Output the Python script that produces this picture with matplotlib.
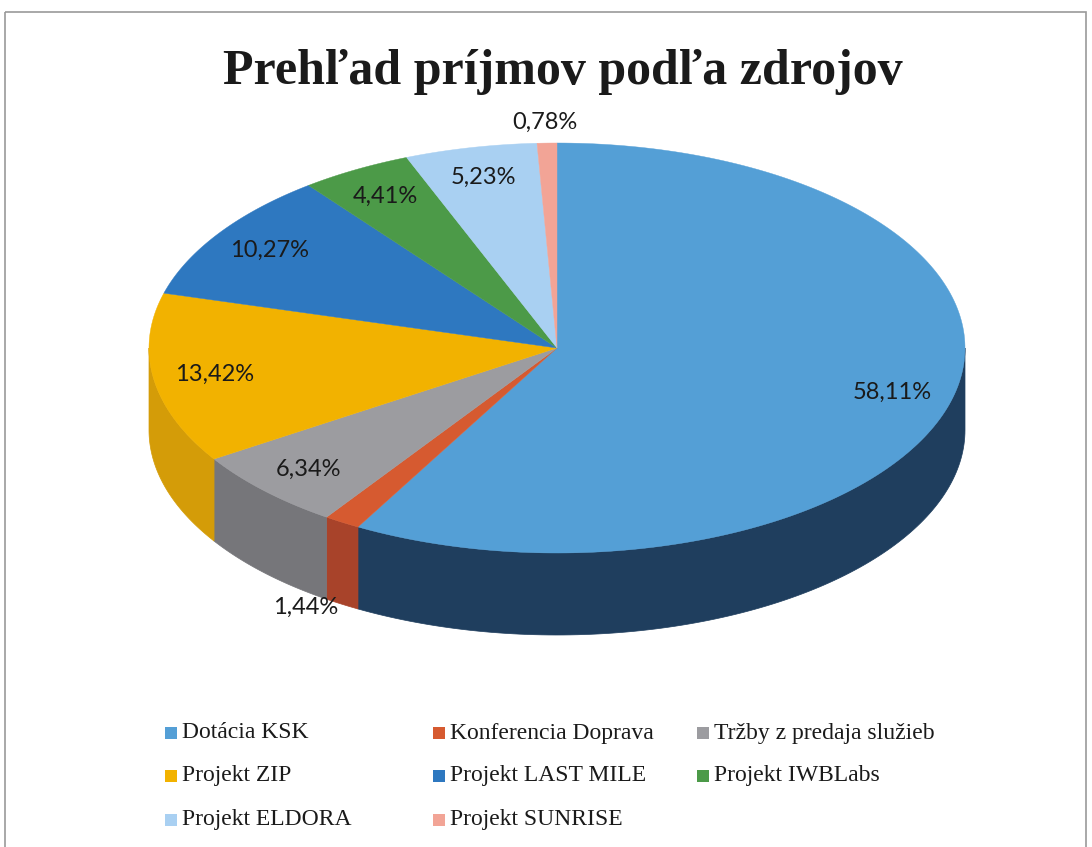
import numpy as np
import matplotlib
matplotlib.use("Agg")
import matplotlib.pyplot as plt
from matplotlib.patches import Polygon, Rectangle

# Data
categories = ["Dotácia KSK", "Konferencia Doprava", "Tržby z predaja služieb",
              "Projekt ZIP", "Projekt LAST MILE", "Projekt IWBLabs",
              "Projekt ELDORA", "Projekt SUNRISE"]
shares = [58.11, 1.44, 6.34, 13.42, 10.27, 4.41, 5.23, 0.78]
labels = ["58,11%", "1,44%", "6,34%", "13,42%", "10,27%", "4,41%", "5,23%", "0,78%"]

top_colors = ["#549fd6", "#d65a30", "#9c9ca0", "#f2b200",
              "#2e78c0", "#4c9a48", "#a9d0f2", "#f2a496"]
side_colors = ["#1f3e5e", "#a8432a", "#76767a", "#d49c08",
               "#245e98", "#3a7a38", "#86a8c8", "#c8857a"]

# geometry of the 3D pie in pixel space
cx, cy = 557, 348
rx, ry = 408, 205
depth = 82

fig = plt.figure(figsize=(10.92, 8.47), dpi=100)
ax = fig.add_axes([0, 0, 1, 1])
ax.set_xlim(0, 1092)
ax.set_ylim(847, 0)
ax.axis("off")

# outer border of the chart area
ax.add_patch(Rectangle((5, 12), 1081, 850, fill=False, ec="#9a9a9a", lw=1.2))


def ell(theta, dy=0.0):
    return cx + rx * np.cos(theta), cy - ry * np.sin(theta) + dy


total = sum(shares)
bounds = []
start = np.pi / 2
for s in shares:
    end = start - 2 * np.pi * s / total
    bounds.append((start, end))
    start = end

# side walls (front half only)
for (a, b), col in zip(bounds, side_colors):
    for k in range(-2, 2):
        f_hi = 2 * np.pi * k
        f_lo = -np.pi + 2 * np.pi * k
        s_hi = min(a, f_hi)
        s_lo = max(b, f_lo)
        if s_hi > s_lo:
            t = np.linspace(s_hi, s_lo, 120)
            xt, yt = ell(t)
            xb, yb = ell(t[::-1], depth)
            pts = np.column_stack([np.concatenate([xt, xb]), np.concatenate([yt, yb])])
            ax.add_patch(Polygon(pts, closed=True, fc=col, ec=col, lw=0.5))

# top faces
for (a, b), col in zip(bounds, top_colors):
    t = np.linspace(a, b, 200)
    xt, yt = ell(t)
    pts = np.column_stack([np.concatenate([[cx], xt]), np.concatenate([[cy], yt])])
    ax.add_patch(Polygon(pts, closed=True, fc=col, ec=col, lw=0.3))

# data labels
for (a, b), lab, s in zip(bounds, labels, shares):
    mid = (a + b) / 2
    if s < 2:
        # small slices: label outside the pie
        x = cx + 1.17 * rx * np.cos(mid)
        y = cy - 1.1 * ry * np.sin(mid)
        if np.sin(mid) < 0:
            y += depth * 0.83
    else:
        x = cx + 0.85 * rx * np.cos(mid)
        y = cy - 0.85 * ry * np.sin(mid)
    ax.text(x, y, lab, fontsize=17, family="Lato", color="#1a1a1a",
            ha="center", va="center")

# title
ax.text(563, 72, "Prehľad príjmov podľa zdrojov", fontsize=36,
        family="Liberation Serif", fontweight="bold",
        color="#1a1a1a", ha="center", va="center")

# legend (row-wise, 3 columns)
col_x = [165, 433, 697]
row_y = [733, 776, 820]
for i, (name, col) in enumerate(zip(categories, top_colors)):
    r, c = divmod(i, 3)
    x0, y0 = col_x[c], row_y[r]
    ax.add_patch(Rectangle((x0, y0 - 6), 12, 12, fc=col, ec="none"))
    ax.text(x0 + 17, y0, name, fontsize=17, family="Liberation Serif",
            color="#1a1a1a", ha="left", va="center")

fig.savefig("out.png", dpi=100)
